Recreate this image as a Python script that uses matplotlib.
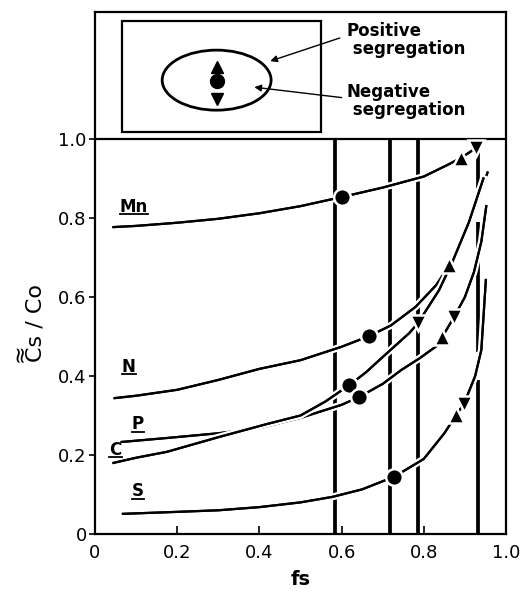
import numpy as np
import matplotlib.pyplot as plt
from matplotlib.patches import Rectangle, Ellipse
import matplotlib.patheffects as pe

plt.rcParams.update({'font.family': 'DejaVu Sans'})

# curves (fs, Cs/Co)
mn_x = [0.045, 0.1, 0.2, 0.3, 0.4, 0.5, 0.6, 0.7, 0.8, 0.857, 0.89, 0.927]
mn_y = [0.777, 0.780, 0.788, 0.798, 0.812, 0.830, 0.853, 0.877, 0.905, 0.934, 0.952, 0.977]
n_x = [0.048, 0.1, 0.2, 0.3, 0.4, 0.5, 0.6, 0.667, 0.72, 0.78, 0.83, 0.862, 0.90, 0.93, 0.955]
n_y = [0.344, 0.350, 0.365, 0.390, 0.418, 0.440, 0.474, 0.501, 0.528, 0.575, 0.630, 0.68, 0.77, 0.84, 0.915]
p_x = [0.065, 0.175, 0.3, 0.4, 0.5, 0.6, 0.643, 0.7, 0.745, 0.79, 0.83, 0.845,
       0.874, 0.90, 0.922, 0.94, 0.952]
p_y = [0.233, 0.243, 0.255, 0.268, 0.294, 0.327, 0.347, 0.38, 0.415, 0.445, 0.475, 0.499,
       0.55, 0.60, 0.663, 0.74, 0.83]
c_x = [0.045, 0.1, 0.175, 0.3, 0.417, 0.5, 0.56, 0.619, 0.66, 0.70, 0.765, 0.785,
       0.837, 0.87, 0.91, 0.945]
c_y = [0.18, 0.193, 0.208, 0.245, 0.278, 0.30, 0.335, 0.377, 0.41, 0.448, 0.509, 0.533,
       0.617, 0.69, 0.79, 0.90]
s_x = [0.068, 0.2, 0.3, 0.4, 0.5, 0.578, 0.65, 0.728, 0.8, 0.85, 0.878, 0.898, 0.925, 0.94, 0.951]
s_y = [0.051, 0.056, 0.060, 0.068, 0.080, 0.094, 0.113, 0.145, 0.19, 0.255, 0.30, 0.33, 0.40, 0.466, 0.643]

# markers: circle = average, up = positive, down = negative segregation
circ_x = [0.60, 0.667, 0.619, 0.643, 0.728]
circ_y = [0.853, 0.501, 0.377, 0.347, 0.145]
up_x = [0.89, 0.862, 0.845, 0.878]
up_y = [0.952, 0.68, 0.499, 0.30]
down_x = [0.927, 0.785, 0.874, 0.898]
down_y = [0.977, 0.533, 0.55, 0.33]

# vertical lines (fs, y from, y to)
vlines = [(0.583, 0.0, 1.0), (0.718, 0.0, 1.0), (0.786, 0.0, 1.0),
          (0.932, 0.875, 1.0), (0.932, 0.46, 0.79), (0.932, 0.0, 0.39)]

labels = ['Mn', 'N', 'P', 'C', 'S']
lab_x = [0.06, 0.065, 0.09, 0.035, 0.09]
lab_y = [0.805, 0.40, 0.255, 0.19, 0.085]

fig = plt.figure(figsize=(5.23, 5.92), dpi=100)
ax = fig.add_axes([0.1816, 0.098, 0.7859, 0.8817])
ax.set_xlim(0, 1.0)
ax.set_ylim(0, 1.3215)

for x, y0, y1 in vlines:
    ax.plot([x, x], [y0, y1], color='black', lw=2.7, zorder=1, solid_capstyle='butt')

halo = [pe.withStroke(linewidth=5, foreground='white'), pe.Normal()]
for xs, ys in [(mn_x, mn_y), (n_x, n_y), (p_x, p_y), (c_x, c_y), (s_x, s_y)]:
    ax.plot(xs, ys, color='black', lw=1.6, path_effects=halo, zorder=2,
            solid_joinstyle='round')

mk = dict(color='black', ls='none', mec='white', mew=1.8, zorder=3)
ax.plot(circ_x, circ_y, 'o', ms=12, **mk)
ax.plot(up_x, up_y, '^', ms=12, **mk)
ax.plot(down_x, down_y, 'v', ms=12, **mk)

# element names, underlined
fig.canvas.draw()
rend = fig.canvas.get_renderer()
for t, x, y in zip(labels, lab_x, lab_y):
    txt = ax.text(x, y, t, fontsize=12, fontweight='bold', ha='left', va='bottom')
    bb = txt.get_window_extent(renderer=rend).transformed(ax.transData.inverted())
    ax.plot([bb.x0, bb.x1], [bb.y0 + 0.004, bb.y0 + 0.004], color='black', lw=1.3)

# upper panel with the key
ax.axhline(1.0, color='black', lw=1.6)
ax.add_patch(Rectangle((0.066, 1.018), 0.484, 0.282, fill=False, lw=1.6))
ax.add_patch(Ellipse((0.296, 1.149), 0.265, 0.152, fill=False, lw=2.0))
ax.plot([0.296], [1.182], '^', color='black', ms=8)
ax.plot([0.296], [1.147], 'o', color='black', ms=10)
ax.plot([0.296], [1.101], 'v', color='black', ms=9)
ax.text(0.612, 1.297, 'Positive\n segregation', fontsize=12, fontweight='bold',
        va='top', ha='left', linespacing=1.0)
ax.text(0.612, 1.142, 'Negative\n segregation', fontsize=12, fontweight='bold',
        va='top', ha='left', linespacing=1.0)
ax.annotate('', xy=(0.42, 1.195), xytext=(0.602, 1.258),
            arrowprops=dict(arrowstyle='-|>', color='black', lw=1.0, mutation_scale=10))
ax.annotate('', xy=(0.381, 1.132), xytext=(0.607, 1.104),
            arrowprops=dict(arrowstyle='-|>', color='black', lw=1.0, mutation_scale=10))

xt = [0, 0.2, 0.4, 0.6, 0.8, 1.0]
ax.set_xticks(xt)
ax.set_xticklabels(['0', '0.2', '0.4', '0.6', '0.8', '1.0'], fontsize=13)
ax.set_yticks(xt)
ax.set_yticklabels(['0', '0.2', '0.4', '0.6', '0.8', '1.0'], fontsize=13)
ax.tick_params(axis='x', direction='in', length=6, width=1.2, pad=7)
ax.tick_params(axis='y', direction='out', length=4, width=1.2, pad=2)
for s in ax.spines.values():
    s.set_linewidth(1.6)

ax.set_xlabel('fs', fontsize=14, fontweight='bold', labelpad=6)
# y label: Cs / Co with a double wave over the C (first line sits on the left)
ax.text(-0.165, 0.405, '\u2248\nCs / Co', transform=ax.transAxes, rotation=90,
        ha='center', va='center', fontsize=16, multialignment='left',
        linespacing=0.75)

fig.savefig('out.png', dpi=100)
